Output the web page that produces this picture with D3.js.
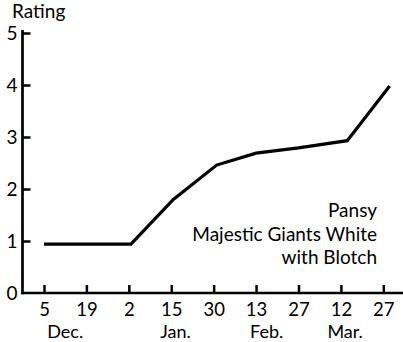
<!DOCTYPE html>
<html><head><meta charset="utf-8">
<script src="https://cdn.jsdelivr.net/npm/d3@7"></script>
<style>body{margin:0;background:#fff}svg{display:block}text{font-family:Lato,"Liberation Sans",sans-serif;fill:#000}</style>
</head><body>
<script>
const categories = ["5","19","2","15","30","13","27","12","27"];
const months = ["Dec.","Jan.","Feb.","Mar."];
const monthPos = [0.5, 3.1, 5.25, 7.1];
const pointPos = [0, 2.05, 3.05, 4.07, 5, 6, 7.15, 8.15];
const ratings = [0.94, 0.94, 1.8, 2.46, 2.69, 2.79, 2.93, 3.98];
const yTicks = [0,1,2,3,4,5];
const titleLines = ["Pansy","Majestic Giants White","with Blotch"];

const W=403,H=342;
const svg=d3.select("body").append("svg").attr("width",W).attr("height",H);
const x=d3.scaleLinear().domain([0,8]).range([44,383.3]);
const y=d3.scaleLinear().domain([0,5]).range([293,33]);
const axX=22.5;

// y axis
const ya=svg.append("g").attr("transform",`translate(${axX},0)`)
  .call(d3.axisLeft(y).tickValues(yTicks).tickSize(-8).tickSizeOuter(0).tickPadding(5).tickFormat(d3.format("d")));
ya.select(".domain").remove();
ya.selectAll(".tick line").attr("stroke","#000").attr("stroke-width",2.5);
ya.selectAll(".tick text").style("font-size","19px").attr("dy","0.36em");
ya.selectAll(".tick").filter(d=>d===0).select("line").remove();

// x axis
const xa=svg.append("g").attr("transform",`translate(0,${y(0)})`)
  .call(d3.axisBottom(x).tickValues(d3.range(categories.length)).tickSize(-8).tickSizeOuter(0).tickPadding(23).tickFormat(i=>categories[i]));
xa.select(".domain").remove();
xa.selectAll(".tick line").attr("stroke","#000").attr("stroke-width",2.5);
xa.selectAll(".tick text").style("font-size","18.5px").attr("dy","0");

// axis lines
svg.append("line").attr("x1",axX).attr("x2",axX).attr("y1",y(5)-3).attr("y2",y(0)+1.2)
  .attr("stroke","#000").attr("stroke-width",2.7);
svg.append("line").attr("x1",axX-1.3).attr("x2",W).attr("y1",y(0)).attr("y2",y(0))
  .attr("stroke","#000").attr("stroke-width",2.5);

// months
svg.selectAll(".month").data(months).join("text").attr("class","month")
  .attr("x",(d,i)=>x(monthPos[i])).attr("y",337.5).attr("text-anchor","middle")
  .style("font-size","18px").text(d=>d);

// y label
svg.append("text").attr("x",12).attr("y",18).style("font-size","19px").text("Rating");

// line
const pts=pointPos.map((p,i)=>[p,ratings[i]]);
svg.append("path").datum(pts)
  .attr("d",d3.line().x(d=>x(d[0])).y(d=>y(d[1])))
  .attr("fill","none").attr("stroke","#000").attr("stroke-width",3.2).attr("stroke-linejoin","miter");

// title
svg.selectAll(".ttl").data(titleLines).join("text").attr("class","ttl")
  .attr("x",377).attr("y",(d,i)=>217+i*23.5).attr("text-anchor","end")
  .style("font-size","19px").text(d=>d);
</script>
</body></html>
